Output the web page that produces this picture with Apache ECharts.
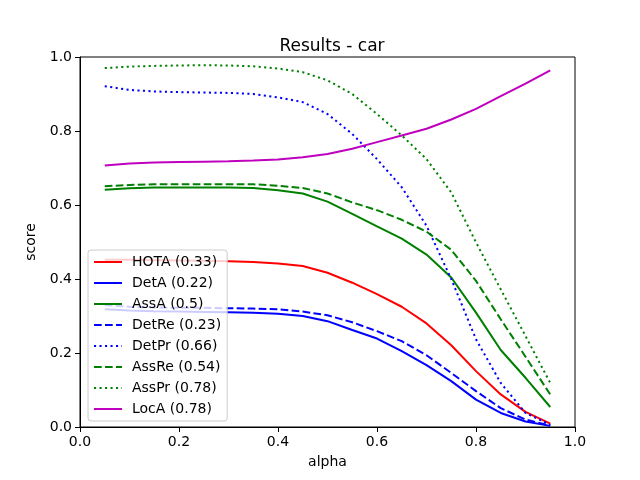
<!DOCTYPE html>
<html>
<head>
<meta charset="utf-8">
<script src="https://cdn.jsdelivr.net/npm/echarts@6/dist/echarts.min.js"></script>
<style>
  html, body { margin: 0; padding: 0; background: #fff; }
  #chart { width: 640px; height: 480px; }
</style>
</head>
<body>
<div id="chart"></div>
<script>
const alphas = [0.05, 0.1, 0.15, 0.2, 0.25, 0.3, 0.35, 0.4, 0.45, 0.5,
  0.55, 0.6, 0.65, 0.7, 0.75, 0.8, 0.85, 0.9, 0.95];

const hota  = [0.452, 0.452, 0.451, 0.450, 0.449, 0.448, 0.446, 0.442, 0.435, 0.417,
  0.390, 0.359, 0.325, 0.280, 0.221, 0.151, 0.088, 0.041, 0.009];
const detA  = [0.318, 0.315, 0.313, 0.312, 0.311, 0.310, 0.309, 0.306, 0.300, 0.286,
  0.262, 0.239, 0.205, 0.167, 0.124, 0.074, 0.038, 0.015, 0.003];
const assA  = [0.641, 0.645, 0.647, 0.647, 0.647, 0.647, 0.646, 0.640, 0.631, 0.609,
  0.576, 0.542, 0.509, 0.466, 0.404, 0.309, 0.208, 0.133, 0.054];
const detRe = [0.330, 0.325, 0.323, 0.322, 0.322, 0.321, 0.320, 0.318, 0.312, 0.302,
  0.283, 0.259, 0.232, 0.194, 0.146, 0.097, 0.051, 0.020, 0.004];
const detPr = [0.921, 0.911, 0.907, 0.905, 0.904, 0.903, 0.900, 0.891, 0.878, 0.846,
  0.792, 0.724, 0.648, 0.544, 0.400, 0.237, 0.119, 0.038, 0.006];
const assRe = [0.651, 0.654, 0.656, 0.656, 0.656, 0.656, 0.656, 0.652, 0.646, 0.631,
  0.607, 0.586, 0.560, 0.528, 0.479, 0.395, 0.291, 0.190, 0.088];
const assPr = [0.970, 0.974, 0.976, 0.977, 0.978, 0.977, 0.975, 0.969, 0.959, 0.937,
  0.900, 0.846, 0.788, 0.724, 0.634, 0.499, 0.372, 0.246, 0.119];
const locA  = [0.707, 0.712, 0.715, 0.716, 0.717, 0.718, 0.720, 0.723, 0.729, 0.738,
  0.752, 0.770, 0.788, 0.806, 0.831, 0.860, 0.894, 0.928, 0.964];

const names = ['HOTA (0.33)', 'DetA (0.22)', 'AssA (0.5)', 'DetRe (0.23)',
  'DetPr (0.66)', 'AssRe (0.54)', 'AssPr (0.78)', 'LocA (0.78)'];
const values = [hota, detA, assA, detRe, detPr, assRe, assPr, locA];
const colors = ['#ff0000', '#0000ff', '#008000', '#0000ff',
  '#0000ff', '#008000', '#008000', '#bf00bf'];
// matplotlib '--' and ':' patterns at linewidth 1.5pt, 100 dpi
const dashes = ['solid', 'solid', 'solid', [7.7, 3.3],
  [2.1, 3.4], [7.7, 3.3], [2.1, 3.4], 'solid'];

const font = 'DejaVu Sans';
const chart = echarts.init(document.getElementById('chart'), null, { renderer: 'canvas' });

const axisCommon = {
  type: 'value',
  min: 0,
  max: 1,
  interval: 0.2,
  axisLine: { show: true, onZero: false, lineStyle: { color: '#000', width: 1 } },
  axisTick: { show: true, inside: false, length: 5, lineStyle: { color: '#000' } },
  axisLabel: {
    color: '#000', fontFamily: font, fontSize: 14, margin: 8,
    formatter: (v) => v.toFixed(1)
  },
  splitLine: { show: false },
  nameLocation: 'middle',
  nameTextStyle: { color: '#000', fontFamily: font, fontSize: 14 }
};

chart.setOption({
  animation: false,
  backgroundColor: '#fff',
  title: {
    text: 'Results - car',
    left: 327,
    top: 33,
    textAlign: 'center',
    textStyle: { color: '#000', fontFamily: font, fontSize: 17, fontWeight: 'normal' }
  },
  grid: {
    left: 80, right: 65, top: 57, bottom: 53,
    show: true, borderColor: '#000', borderWidth: 1, containLabel: false
  },
  legend: {
    orient: 'vertical',
    left: 88,
    top: 250,
    padding: [5, 6, 5, 5],
    itemWidth: 28,
    itemHeight: 14,
    itemGap: 7,
    backgroundColor: 'rgba(255,255,255,0.8)',
    borderColor: '#cccccc',
    borderWidth: 1,
    borderRadius: 3,
    itemStyle: { opacity: 0, borderWidth: 0 },
    textStyle: { color: '#000', fontFamily: font, fontSize: 14, padding: [0, 0, 0, 5] },
    data: names
  },
  xAxis: Object.assign({}, axisCommon, { name: 'alpha', nameGap: 28 }),
  yAxis: Object.assign({}, axisCommon, { name: 'score', nameGap: 37 }),
  series: names.map((name, i) => ({
    name: name,
    type: 'line',
    symbol: 'none',
    smooth: false,
    color: colors[i],
    lineStyle: { color: colors[i], width: 2, type: dashes[i] },
    data: alphas.map((a, j) => [a, values[i][j]])
  }))
});
</script>
</body>
</html>
